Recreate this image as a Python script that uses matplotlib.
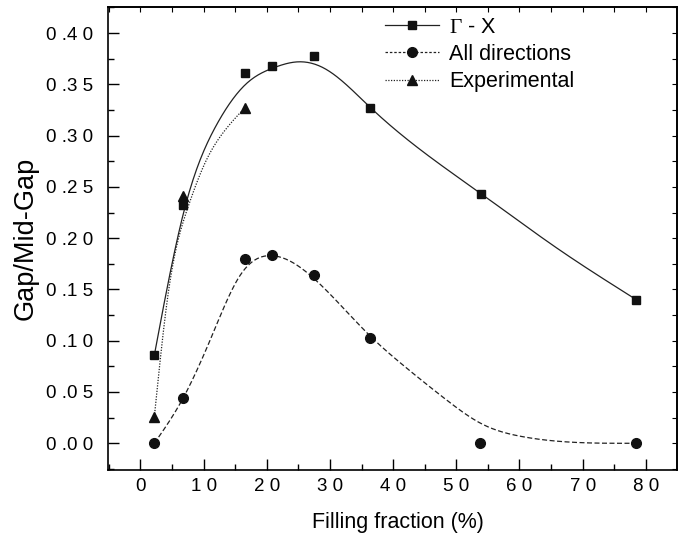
import numpy as np
import matplotlib.pyplot as plt
from matplotlib.ticker import FixedLocator, MultipleLocator, FixedFormatter

plt.rcParams['font.family'] = ['Liberation Sans', 'DejaVu Sans']
plt.rcParams['mathtext.fontset'] = 'custom'
plt.rcParams['mathtext.rm'] = 'Liberation Serif'

# measured points
gx_x = [2.2, 6.75, 16.5, 20.9, 27.5, 36.3, 53.9, 78.5]
gx_y = [0.086, 0.232, 0.361, 0.368, 0.378, 0.327, 0.243, 0.140]

all_x = [2.2, 6.75, 16.5, 20.9, 27.4, 36.3, 53.8, 78.5]
all_y = [0.0, 0.044, 0.180, 0.184, 0.164, 0.103, 0.0, 0.0]

exp_x = [2.2, 6.75, 16.5]
exp_y = [0.026, 0.241, 0.327]

# fitted curves
gx_fit_x = [2.2, 7.0, 12.0, 17.0, 21.0, 25.0, 29.0, 36.3, 54.0, 66.0, 78.5]
gx_fit_y = [0.086, 0.229, 0.310, 0.352, 0.366, 0.372, 0.366, 0.328, 0.243, 0.190, 0.140]

all_fit_x = [2.2, 6.75, 11.5, 15.7, 20.5, 27.4, 36.3, 42.0, 48.5, 54.0, 60.0, 66.0, 78.5]
all_fit_y = [0.0, 0.044, 0.1075, 0.163, 0.183, 0.161, 0.105, 0.074, 0.042, 0.019, 0.007, 0.002, 0.0]

exp_fit_x = [2.2, 4.4, 7.4, 10.5, 13.1, 16.5]
exp_fit_y = [0.026, 0.1465, 0.228, 0.277, 0.303, 0.327]

y_ticks = [0.0, 0.05, 0.10, 0.15, 0.20, 0.25, 0.30, 0.35, 0.40]
y_labels = ['0 .0 0', '0 .0 5', '0 .1 0', '0 .1 5', '0 .2 0', '0 .2 5', '0 .3 0', '0 .3 5', '0 .4 0']
x_ticks = [0, 10, 20, 30, 40, 50, 60, 70, 80]
x_labels = ['0', '1 0', '2 0', '3 0', '4 0', '5 0', '6 0', '7 0', '8 0']


def spline(xk, yk, n=400):
    # natural cubic spline through the knots
    xk = np.asarray(xk, float)
    yk = np.asarray(yk, float)
    k = len(xk)
    h = np.diff(xk)
    A = np.zeros((k, k))
    b = np.zeros(k)
    A[0, 0] = A[-1, -1] = 1
    for i in range(1, k - 1):
        A[i, i - 1] = h[i - 1]
        A[i, i] = 2 * (h[i - 1] + h[i])
        A[i, i + 1] = h[i]
        b[i] = 6 * ((yk[i + 1] - yk[i]) / h[i] - (yk[i] - yk[i - 1]) / h[i - 1])
    M = np.linalg.solve(A, b)
    xs = np.linspace(xk[0], xk[-1], n)
    i = np.clip(np.searchsorted(xk, xs) - 1, 0, k - 2)
    t1 = xk[i + 1] - xs
    t0 = xs - xk[i]
    ys = (M[i] * t1**3 + M[i + 1] * t0**3) / (6 * h[i]) \
        + (yk[i] / h[i] - M[i] * h[i] / 6) * t1 \
        + (yk[i + 1] / h[i] - M[i + 1] * h[i] / 6) * t0
    return xs, ys


fig = plt.figure(figsize=(6.85, 5.34), dpi=100)
ax = fig.add_axes([0.158, 0.12, 0.830, 0.866])

lc = '#222222'
xs, ys = spline(gx_fit_x, gx_fit_y)
ax.plot(xs, ys, '-', color=lc, lw=0.9)
xs, ys = spline(all_fit_x, all_fit_y)
ax.plot(xs, ys, color=lc, lw=0.9, linestyle=(0, (4, 2)))
xs, ys = spline(exp_fit_x, exp_fit_y)
ax.plot(xs, ys, color=lc, lw=0.9, linestyle=(0, (1, 1.2)))

ax.plot(gx_x, gx_y, 's', color='#111111', ms=6.2, zorder=3)
ax.plot(all_x, all_y, 'o', color='#111111', ms=7, zorder=3)
ax.plot(exp_x, exp_y, '^', color='#111111', ms=7.5, zorder=3)

# legend proxies
h1, = ax.plot([], [], '-s', color=lc, lw=0.9, ms=6.2, mfc='#111111', mec='#111111')
h2, = ax.plot([], [], 'o', color=lc, lw=0.9, ms=7, linestyle=(0, (2, 1.5)), mfc='#111111', mec='#111111')
h3, = ax.plot([], [], '^', color=lc, lw=0.9, ms=7.5, linestyle=(0, (1, 1.2)), mfc='#111111', mec='#111111')
ax.legend([h1, h2, h3], [r'$\Gamma$ - X', 'All directions', 'Experimental'],
          loc='upper left', bbox_to_anchor=(0.461, 1.012), frameon=False,
          fontsize=15.5, handlelength=2.5, handletextpad=0.45, labelspacing=0.28,
          borderpad=0.2)

ax.set_xlim(-5.1, 84.9)
ax.set_ylim(-0.026, 0.425)

ax.xaxis.set_major_locator(FixedLocator(x_ticks))
ax.xaxis.set_major_formatter(FixedFormatter(x_labels))
ax.xaxis.set_minor_locator(MultipleLocator(5))
ax.yaxis.set_major_locator(FixedLocator(y_ticks))
ax.yaxis.set_major_formatter(FixedFormatter(y_labels))
ax.yaxis.set_minor_locator(MultipleLocator(0.025))

ax.tick_params(which='major', direction='in', length=8, width=1, labelsize=13.5)
ax.tick_params(which='minor', direction='in', length=4.5, width=1)
ax.tick_params(axis='x', pad=6)
ax.tick_params(axis='y', pad=11)

top = ax.secondary_xaxis('top')
top.xaxis.set_major_locator(MultipleLocator(5))
top.tick_params(direction='in', length=3.5, width=0.8, labeltop=False)
right = ax.secondary_yaxis('right')
right.yaxis.set_major_locator(MultipleLocator(0.025))
right.tick_params(direction='in', length=3.5, width=0.8, labelright=False)

for s in ax.spines.values():
    s.set_linewidth(1.2)
top.spines['top'].set_linewidth(1.2)
right.spines['right'].set_linewidth(1.2)

ax.set_xlabel('Filling fraction (%)', fontsize=15.5, labelpad=12, x=0.51)
ax.set_ylabel('Gap/Mid-Gap', fontsize=19.5, labelpad=5)

fig.savefig('out.png', dpi=100)
